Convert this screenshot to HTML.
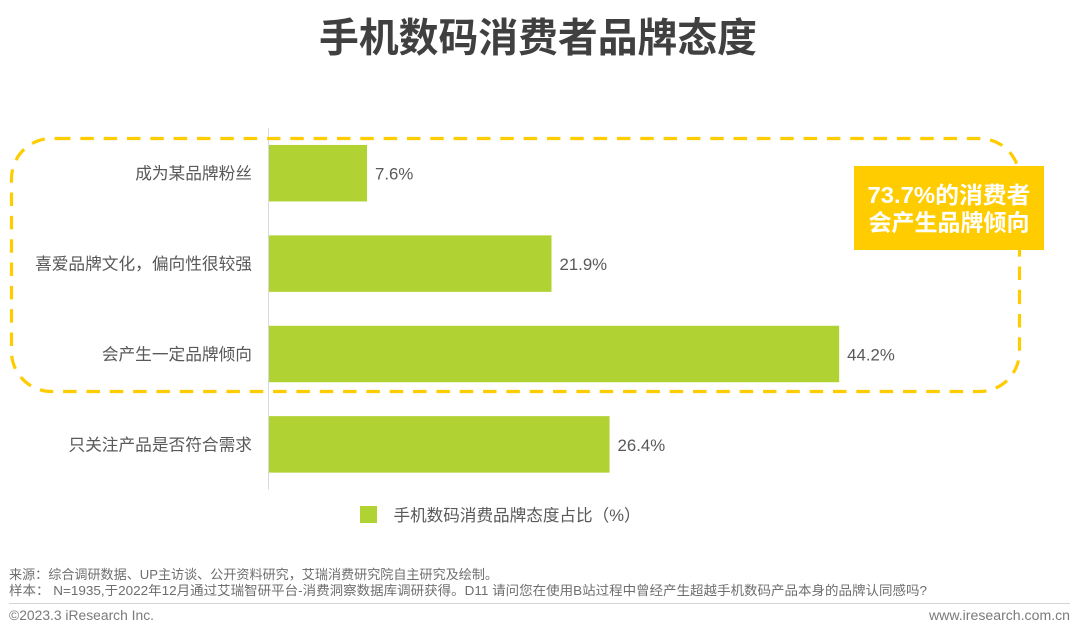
<!DOCTYPE html>
<html lang="zh-CN">
<head>
<meta charset="utf-8">
<title>手机数码消费者品牌态度</title>
<style>
html,body{margin:0;padding:0;background:#fff;}
#stage{display:block;width:1080px;height:638px;filter:blur(0.35px);}
text{font-family:"Liberation Sans","Noto Sans CJK SC",sans-serif;}
</style>
</head>
<body>
<svg id="stage" xmlns="http://www.w3.org/2000/svg" width="1080" height="638" viewBox="0 0 1080 638">
  <rect x="0" y="0" width="1080" height="638" fill="#ffffff"/>
  <text x="538" y="51.5" text-anchor="middle" font-size="40" font-weight="700" fill="#404040" textLength="438" lengthAdjust="spacingAndGlyphs">手机数码消费者品牌态度</text>
  <g id="plot"></g>
  <g fill="none" stroke="#ffcc00" stroke-width="3.2" stroke-dasharray="13.5 9.83">
    <path d="M57 138.5 H979.5 A40 40 0 0 1 1019.5 178.5 V300"/>
    <path stroke-dashoffset="9.39" d="M1019.5 300 V351.5 A40 40 0 0 1 979.5 391.5 H51.5 A40 40 0 0 1 11.5 351.5 V178.5 A40 40 0 0 1 51.5 138.5 H57"/>
  </g>
  <rect x="854" y="166" width="190" height="84" fill="#ffcc00"/>
  <text x="867.5" y="203" font-size="23" font-weight="700" fill="#ffffff" textLength="163" lengthAdjust="spacingAndGlyphs">73.7%的消费者</text>
  <text x="949" y="230.5" text-anchor="middle" font-size="23" font-weight="700" fill="#ffffff">会产生品牌倾向</text>
  <rect x="360" y="506" width="17" height="17" fill="#b0d232"/>
  <text x="393.5" y="521" font-size="16.6" fill="#595959">手机数码消费品牌态度占比（%）</text>
  <text x="9" y="579" font-size="13.1" fill="#6e6e6e" textLength="489" lengthAdjust="spacingAndGlyphs">来源：综合调研数据、UP主访谈、公开资料研究，艾瑞消费研究院自主研究及绘制。</text>
  <text x="9" y="595" font-size="13.1" fill="#6e6e6e" textLength="918" lengthAdjust="spacingAndGlyphs">样本：  N=1935,于2022年12月通过艾瑞智研平台-消费洞察数据库调研获得。D11 请问您在使用B站过程中曾经产生超越手机数码产品本身的品牌认同感吗?</text>
  <line x1="9" y1="603.5" x2="1070" y2="603.5" stroke="#d4d4d4" stroke-width="1"/>
  <text x="9" y="620" font-size="13.5" fill="#7a7a7a" textLength="145" lengthAdjust="spacingAndGlyphs">©2023.3 iResearch Inc.</text>
  <text x="929" y="620" font-size="13.5" fill="#7a7a7a" textLength="141" lengthAdjust="spacingAndGlyphs">www.iresearch.com.cn</text>
</svg>
<script>
const categories = ["成为某品牌粉丝", "喜爱品牌文化，偏向性很较强", "会产生一定品牌倾向", "只关注产品是否符合需求"];
const shareValues = [7.6, 21.9, 44.2, 26.4];

const NS = "http://www.w3.org/2000/svg";
const plot = document.getElementById("plot");
const xZero = 269;
const pxPerPercent = 12.9;
const bandTop = 128;
const bandHeight = 90.4;
const barHeight = 56.5;

function xScale(v) { return xZero + v * pxPerPercent; }
function bandCenter(i) { return bandTop + bandHeight * (i + 0.5); }

const axis = document.createElementNS(NS, "line");


axis.setAttribute("x1", xZero - 0.5);
axis.setAttribute("x2", xZero - 0.5);
axis.setAttribute("y1", bandTop);
axis.setAttribute("y2", bandTop + bandHeight * categories.length);
axis.setAttribute("stroke", "#d9d9d9");
axis.setAttribute("stroke-width", "1");
plot.appendChild(axis);

categories.forEach(function (name, i) {
  const cy = bandCenter(i);

  const bar = document.createElementNS(NS, "rect");
  
  
  bar.setAttribute("x", xZero);
  bar.setAttribute("y", cy - barHeight / 2);
  bar.setAttribute("width", xScale(shareValues[i]) - xZero);
  bar.setAttribute("height", barHeight);
  bar.setAttribute("fill", "#b0d232");
  plot.appendChild(bar);

  const label = document.createElementNS(NS, "text");
  
  
  label.setAttribute("x", 252);
  label.setAttribute("y", cy + 6);
  label.setAttribute("text-anchor", "end");
  label.setAttribute("font-size", "16.7");
  label.setAttribute("fill", "#595959");
  label.textContent = name;
  plot.appendChild(label);

  const value = document.createElementNS(NS, "text");
  
  
  value.setAttribute("x", xScale(shareValues[i]) + 8);
  value.setAttribute("y", cy + 6.5);
  value.setAttribute("font-size", "16.8");
  value.setAttribute("fill", "#595959");
  value.textContent = shareValues[i].toFixed(1) + "%";
  plot.appendChild(value);
});
</script>
</body>
</html>
